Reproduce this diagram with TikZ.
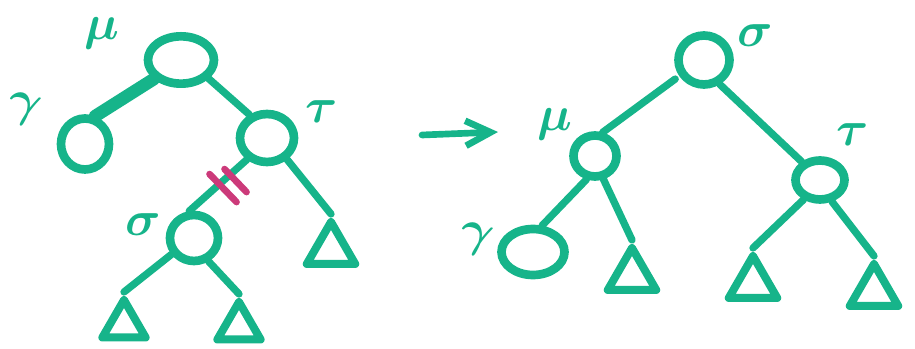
\RequirePackage{fix-cm}
\documentclass[tikz,border=0pt]{standalone}
\usepackage{bm}
\usetikzlibrary{arrows.meta,shapes.geometric,calc}
\definecolor{marker}{RGB}{22,180,138}
\definecolor{cutpink}{RGB}{204,58,122}

\begin{document}
\begin{tikzpicture}[x=0.03cm,y=-0.03cm,line cap=round,line join=round,
 vx/.style={draw=marker,line width=2.6mm,ellipse,inner sep=0},
 sub/.style={draw=marker,line width=2.4mm,regular polygon,regular polygon sides=3,inner sep=0},
 br/.style={draw=marker,line width=2.2mm},
 cutmk/.style={draw=cutpink,line width=2mm},
 lbl/.style={text=marker,font=\fontsize{42}{44}\selectfont,inner sep=0}]
 \useasboundingbox (0,0) rectangle (915,349);
 % before
 \node[vx,minimum width=1.98cm,minimum height=1.42cm] (muL) at (181,60) {};
 \node[vx,minimum width=1.44cm,minimum height=1.53cm] (gaL) at (85,144) {};
 \node[vx,minimum width=1.62cm,minimum height=1.44cm] (tauL) at (267,138) {};
 \node[vx,minimum width=1.44cm,minimum height=1.38cm] (sigL) at (194,238) {};
 \node[sub,minimum size=1.68cm] (tT) at (331,250) {};
 \node[sub,minimum size=1.5cm] (tSl) at (124,325) {};
 \node[sub,minimum size=1.5cm] (tSr) at (239,327) {};
 \draw[br,line width=3.8mm] (muL.215) -- (gaL.70);
 \draw[br] (muL.326) -- (tauL.127);
 \draw[br] (tauL.227) -- coordinate[pos=0.3] (cut) (sigL.100);
 \draw[br] (tauL.313) -- (tT.corner 1);
 \draw[br] (sigL.216) -- (tSl.corner 1);
 \draw[br] (sigL.302) -- (tSr.corner 1);
 \draw[cutmk] ($(cut)+(-20,-1)$) -- ($(cut)+(7,27)$);
 \draw[cutmk] ($(cut)+(-5,-6)$) -- ($(cut)+(17,17)$);
 \node[lbl] (lmuL) at (102,33) {$\bm\mu$};
 \node[lbl,rotate=-15] (lgaL) at (24,110) {$\bm\gamma$};
 \node[lbl] (ltauL) at (322,112) {$\bm\tau$};
 \node[lbl] (lsigL) at (143,225) {$\bm\sigma$};
 % arrow
 \coordinate (from) at (422,135);
 \coordinate (to) at (498,132);
 \draw[br,line width=2mm,-{Straight Barb[length=7.5mm,width=7.5mm]}] (from) -- (to);
 % after
 \node[vx,minimum width=1.53cm,minimum height=1.47cm] (sigR) at (704,60) {};
 \node[vx,minimum width=1.29cm,minimum height=1.23cm] (muR) at (595,156) {};
 \node[vx,minimum width=1.89cm,minimum height=1.38cm] (gaR) at (533,252) {};
 \node[vx,minimum width=1.47cm,minimum height=1.17cm] (tauR) at (820,180) {};
 \node[sub,minimum size=1.68cm] (tM) at (632,276) {};
 \node[sub,minimum size=1.68cm] (tTl) at (753,284) {};
 \node[sub,minimum size=1.68cm] (tTr) at (874,292) {};
 \draw[br,shorten <=1.5mm] (sigR.213) -- (muR.72);
 \draw[br] (muR.250) -- (gaR.71);
 \draw[br] (muR.290) -- (tM.corner 1);
 \draw[br] (sigR.303) -- (tauR.135);
 \draw[br] (tauR.230) -- (tTl.corner 1);
 \draw[br] (tauR.299) -- (tTr.corner 1);
 \node[lbl] (lmuR) at (555,124) {$\bm\mu$};
 \node[lbl,rotate=-15] (lgaR) at (476,240) {$\bm\gamma$};
 \node[lbl] (lsigR) at (755,36) {$\bm\sigma$};
 \node[lbl] (ltauR) at (853,135) {$\bm\tau$};
\end{tikzpicture}
\end{document}
